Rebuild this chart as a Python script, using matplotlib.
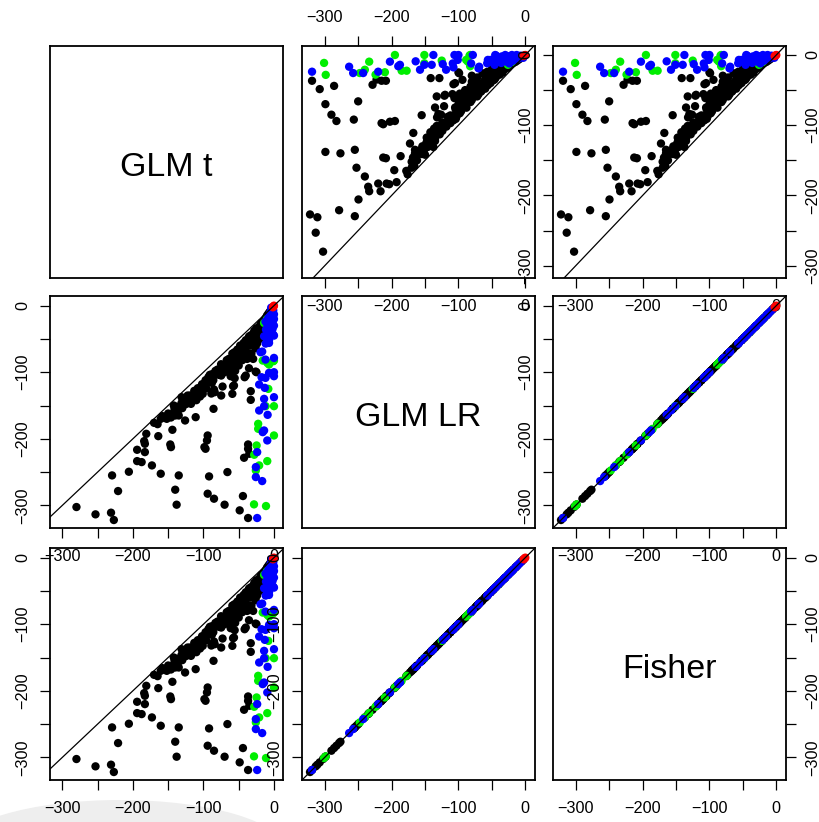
import matplotlib
matplotlib.use('Agg')
import matplotlib.pyplot as plt
from matplotlib.patches import Ellipse

plt.rcParams['font.family'] = ['Liberation Sans', 'DejaVu Sans']

# ---------------- data ----------------
var_names = ['GLM t', 'GLM LR', 'Fisher']
tick_values = [-300, -250, -200, -150, -100, -50, 0]
tick_labels = ['\u2212300', '', '\u2212200', '', '\u2212100', '', '0']

black_t = [-280, -253, -231, -227, -221, -229.5, -205.7, -194, -187.6, -173,
           -183, -194, -184, -183, -181, -164, -160.5, -160.5, -146, -147,
           -144, -140, -138, -135, -126, -111, -97, -98.6, -95, -94,
           -92, -94, -85, -85.7, -70, -66, -48.6, -44, -36.7, -42.4,
           -35, -36.7, -36.7, -32.9, -32.9, -24.8, -29.5, -36.7, -40, -41.6,
           -53, -59, -58, -74.8, -72.9, -84, -65, -74.8, -84, -93,
           -104.8, -101, -118.6, -122.4, -131, -117.6, -127, -135, -136.7, -141,
           -139, -115.7, -88.8, -56.7, -55.7, -85, -95.4, -61.4, -53.8, -26,
           -35.4,
           -170, -165, -158, -152, -150, -146, -142, -140, -137, -134,
           -131, -128, -125, -122, -119, -116, -113, -110, -108, -105,
           -102, -100, -97, -94, -91, -88, -86, -83, -80, -78,
           -75, -72, -70, -67, -64, -62, -59, -56, -54, -51,
           -48, -46, -43, -40, -38, -35, -32, -30, -28, -25,
           -23, -20, -18, -16, -14, -12, -10, -8, -6, -4,
           -3, -2, -90, -60, -50, -45, -70, -30, -24, -20,
           -40, -110, -22, -28, -34, -40, -26, -32, -38, -45,
           -50, -20, -18, -15, -24, -55, -62, -48, -42, -36,
           -30, -27, -52, -58, -66, -72, -78, -82, -88, -96,
           -104, -112, -120, -155, -145, -130, -12, -9, -6, -16]
black_lr = [-302.5, -313.5, -311, -322, -278.5, -255, -249.5, -233.5, -235, -240,
            -220, -216.5, -203.5, -207.5, -192.5, -196, -252.5, -170, -212.5, -208.5,
            -186.5, -276.5, -299, -255, -172.5, -167.5, -215, -212.5, -202.5, -195,
            -256.5, -282.5, -290, -155, -299, -250, -307.5, -286, -319, -228.5,
            -222.5, -215, -208.5, -141.5, -128.5, -100, -80, -72.5, -105, -107.5,
            -82.5, -132.5, -121, -135, -121.5, -130, -97.5, -105, -102.5, -107.5,
            -136.5, -132.5, -140, -135, -137.5, -147.5, -145, -165, -162.5, -155,
            -152.5, -135, -132, -120, -109, -126, -115, -106, -81, -99,
            -94,
            -176, -178, -166, -170, -162, -168, -150, -165, -152, -155,
            -146, -140, -148, -138, -135, -140, -128, -130, -124, -125,
            -118, -126, -112, -115, -104, -103, -112, -98, -96, -100,
            -88, -90, -92, -82, -80, -86, -72, -70, -75, -66,
            -60, -68, -56, -52, -60, -46, -44, -52, -38, -34,
            -40, -30, -26, -32, -22, -19, -15, -12, -9, -6,
            -5, -3, -112, -90, -78, -70, -100, -58, -48, -40,
            -72, -142, -42, -52, -60, -64, -64, -72, -80, -82,
            -90, -50, -32, -37, -57, -98, -95, -74, -58, -48,
            -48, -40, -66, -82, -90, -92, -104, -102, -116, -124,
            -130, -138, -146, -168, -163, -154, -24, -18, -14, -30]

green_t = [-14, -16, -9.4, -1, 0, -7, -8, 0, -11.8, -22.4,
           -22.4, 0, -24.6, -28, -21, -9.5, -25.7, -28.3, -11.3, -10,
           -6]
green_lr = [-26, -82.5, -86, -83.5, -82.5, -88.5, -125, -151, -151, -177.5,
            -185, -195, -210, -224, -240, -233.5, -247.5, -298.5, -301, -20,
            -40]

blue_t = [-1, 0, -1, -2, -9.4, -7, -11.3, -1, -14, -9.4,
          -7, -11.8, -7, 0, -19, -16.7, -12, 0, -7, 0,
          0, -12, -17.6, -13, -21, 0, -14, -14, -21, -9,
          -14, -16, -9.5, -23.8, -25.7, -25.7, -16.7, -23.8, 0, -3,
          -5, -2, -4, -8, -10, -4, -2, 0, -6, -12]
blue_lr = [-7, -13, -21, -26, -28.5, -32, -36, -43.5, -46, -48.5,
           -56, -57, -52, -45, -70, -69, -81, -78.5, -101, -100,
           -106, -108.5, -107.5, -123.5, -118.5, -137.5, -140, -151, -157.5, -164,
           -187.5, -190, -202.5, -220, -242.5, -257.5, -263.5, -319, -20, -15,
           -10, -35, -3, -18, -22, -30, -12, -30, -40, -24]

red_t = [0, -1.5, -0.5]
red_lr = [0, -2.5, -1]

# Fisher p-values coincide with the LR ones in the picture
black_fisher = list(black_lr)
green_fisher = list(green_lr)
blue_fisher = list(blue_lr)
red_fisher = list(red_lr)

# axis limits of each variable (R's 4% expansion as seen in the picture)
var_limits = [(-317.5, 12.8), (-334.0, 14.5), (-334.0, 14.5)]

# ---------------- figure ----------------
W, H = 820, 822
fig = plt.figure(figsize=(W / 100, H / 100), dpi=100)
fig.patch.set_facecolor('white')

# faint grey shading in the lower-left corner of the picture
bg = fig.add_axes([0, 0, 1, 1], zorder=-10)
bg.set_xlim(0, W)
bg.set_ylim(H, 0)
bg.axis('off')
bg.add_patch(Ellipse((120, 850), 330, 100, color='#eeeeee', lw=0))

col_left = [50, 302, 553]
row_top = [46, 296, 548]
pw, ph = 233, 232

series = [
    (dict(t=black_t, lr=black_lr, f=black_fisher), '#000000'),
    (dict(t=green_t, lr=green_lr, f=green_fisher), '#00ee00'),
    (dict(t=blue_t, lr=blue_lr, f=blue_fisher), '#0000ff'),
    (dict(t=red_t, lr=red_lr, f=red_fisher), '#ff0000'),
]
keys = ['t', 'lr', 'f']

# sides with axis ticks/labels per panel (row, col)
panel_sides = {
    (0, 0): [], (0, 1): ['top', 'bottom'], (0, 2): ['left', 'right', 'bottom'],
    (1, 0): ['left', 'bottom'], (1, 1): [], (1, 2): ['left', 'bottom'],
    (2, 0): ['left', 'bottom'], (2, 1): ['left', 'bottom'], (2, 2): ['right', 'bottom'],
}

FS = 11.7
for i in range(3):
    for j in range(3):
        ax = fig.add_axes([col_left[j] / W, 1 - (row_top[i] + ph) / H, pw / W, ph / H])
        ax.set_facecolor('none')
        ax.set_xlim(var_limits[j])
        ax.set_ylim(var_limits[i])
        for sp in ax.spines.values():
            sp.set_linewidth(1.3)
        ax.set_xticks(tick_values)
        ax.set_yticks(tick_values)
        ax.set_xticklabels(tick_labels)
        ax.set_yticklabels(tick_labels)
        sides = panel_sides[(i, j)]
        ax.tick_params(axis='x', bottom='bottom' in sides, labelbottom='bottom' in sides,
                       top='top' in sides, labeltop='top' in sides,
                       length=7, width=0.9, pad=8, labelsize=FS, direction='out')
        ax.tick_params(axis='y', left='left' in sides, labelleft='left' in sides,
                       right='right' in sides, labelright='right' in sides,
                       length=7, width=0.9, pad=7, labelsize=FS, direction='out',
                       labelrotation=90)
        for t in ax.yaxis.get_major_ticks():
            t.label1.set_va('center')
            t.label2.set_va('center')
        if i == j:
            ax.text(0.5, 0.478, var_names[i], transform=ax.transAxes,
                    ha='center', va='center', fontsize=24.5)
        else:
            for d, c in series:
                ax.scatter(d[keys[j]], d[keys[i]], s=36, c=c, edgecolors='none',
                           zorder=2, clip_on=True)
            ax.axline((0, 0), slope=1, color='black', lw=0.9, zorder=3)

fig.savefig('out.png', dpi=100, facecolor='white')
